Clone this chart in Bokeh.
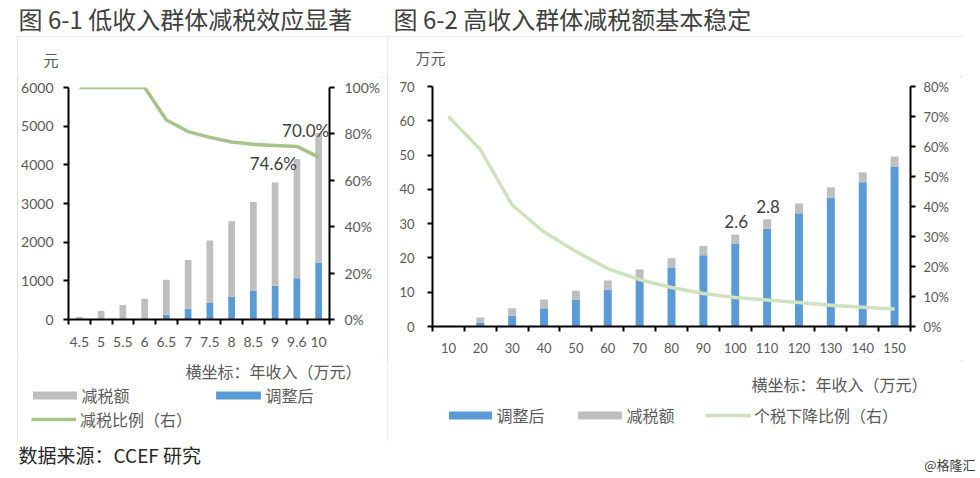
from bokeh.plotting import figure
from bokeh.models import (ColumnDataSource, Range1d, LinearAxis, FixedTicker,
                          NumeralTickFormatter, Label, Legend, LegendItem, Spacer)
from bokeh.layouts import row, column
from bokeh.embed import file_html
from bokeh.resources import INLINE

# ---------------- data ----------------
left_income = ["4.5", "5", "5.5", "6", "6.5", "7", "7.5", "8", "8.5", "9", "9.6", "10"]
left_adjusted = [0, 0, 0, 0, 130, 280, 430, 590, 740, 875, 1065, 1475]
left_cut = [65, 220, 375, 535, 895, 1260, 1610, 1950, 2300, 2670, 3085, 3350]
left_ratio = [100, 100, 100, 100, 86, 81, 78.5, 76.5, 75.5, 75, 74.6, 70.0]
left_yticks = [0, 1000, 2000, 3000, 4000, 5000, 6000]
left_pticks = [0, 20, 40, 60, 80, 100]

right_income = ["10", "20", "30", "40", "50", "60", "70", "80", "90", "100",
                "110", "120", "130", "140", "150"]
right_adjusted = [0.05, 1.0, 3.1, 5.3, 7.8, 10.8, 14.0, 17.2, 20.8, 24.2,
                  28.5, 33.0, 37.6, 42.1, 46.7]
right_cut = [0.25, 1.65, 2.25, 2.55, 2.6, 2.6, 2.6, 2.7, 2.7, 2.6,
             2.8, 2.9, 3.0, 2.9, 2.9]
right_ratio = [70, 59, 40.5, 31.5, 25, 19.3, 15.6, 13, 11, 9.7, 8.8, 8, 7.1, 6.4, 5.8]
right_yticks = [0, 10, 20, 30, 40, 50, 60, 70]
right_pticks = [0, 10, 20, 30, 40, 50, 60, 70, 80]

CJK = "Noto Sans CJK SC"
NUM = "Lato"
BLUE = "#5b9bd5"
GRAY = "#bfbfbf"
GREEN_L = "#a6c48a"
GREEN_R = "#cfe2c0"
TXT = "#595959"
DARK = "#404040"
BOX = {"outline": "2px solid #d9d9d9", "outline-offset": "-2px"}


def style_axis(ax, size, standoff):
    ax.axis_line_color = "black"
    ax.axis_line_width = 2
    ax.major_tick_line_color = "black"
    ax.major_tick_line_width = 2
    ax.major_tick_in = 0
    ax.major_tick_out = 5
    ax.minor_tick_line_color = None
    ax.major_label_text_font = NUM
    ax.major_label_text_font_size = size
    ax.major_label_text_color = TXT
    ax.major_label_standoff = standoff


def cat_x_axis(p, labels, size, standoff):
    centers = [i + 0.5 for i in range(len(labels))]
    bounds = list(range(len(labels) + 1))
    ax = p.xaxis[0]
    ax.ticker = FixedTicker(ticks=centers, minor_ticks=bounds)
    ax.major_label_overrides = {c: l for c, l in zip(centers, labels)}
    ax.axis_line_color = "black"
    ax.axis_line_width = 2
    ax.major_tick_line_color = None
    ax.major_tick_in = 0
    ax.major_tick_out = 5
    ax.minor_tick_line_color = "black"
    ax.minor_tick_line_width = 2
    ax.minor_tick_in = 0
    ax.minor_tick_out = 5
    ax.major_label_text_font = NUM
    ax.major_label_text_font_size = size
    ax.major_label_text_color = TXT
    ax.major_label_standoff = standoff


def text_fig(w, h):
    # a text-only panel; its ranges lie away from the data so that legend
    # proxy renderers are kept out of view
    f = figure(width=w, height=h, output_backend="svg", toolbar_location=None,
               x_range=Range1d(-100, -99), y_range=Range1d(-100, -99), min_border=0,
               x_axis_location=None, y_axis_location=None)
    f.grid.visible = False
    f.outline_line_color = None
    return f


def lab(p, x, y, text, size, color=TXT, align="left"):
    p.add_layout(Label(x=x, y=y, x_units="screen", y_units="screen", text=text,
                       text_font=CJK, text_font_size=size, text_color=color,
                       text_align=align, text_baseline="middle"))


def legend_item(f, label, renderer, x, y, gw, gh, standoff):
    f.add_layout(Legend(items=[LegendItem(label=label, renderers=[renderer])],
                        location=(x, y), orientation="horizontal",
                        glyph_width=gw, glyph_height=gh, label_standoff=standoff,
                        label_height=21, padding=0, margin=0,
                        border_line_alpha=0, background_fill_alpha=0,
                        label_text_font=CJK, label_text_font_size="16px",
                        label_text_color=TXT))


# ---------------- left chart (box 17..383 x 36..441) ----------------
n1 = len(left_income)
src1 = ColumnDataSource(dict(
    x=[i + 0.5 for i in range(n1)], adj=left_adjusted, cut=left_cut,
    ratio=[r / 100 for r in left_ratio]))

head1 = text_fig(366, 41)
lab(head1, 26, 18, "元", "15px")

p1 = figure(width=366, height=276, output_backend="svg", toolbar_location=None,
            x_range=Range1d(0, n1), y_range=Range1d(0, 6000),
            min_border_left=51, min_border_right=53, min_border_top=10,
            min_border_bottom=34)
p1.extra_y_ranges = {"pct": Range1d(0, 1)}
p1.grid.visible = False
p1.outline_line_color = None

p1.vbar_stack(["adj", "cut"], x="x", width=0.31, color=[BLUE, GRAY],
              line_color=None, source=src1)
p1.line("x", "ratio", source=src1, y_range_name="pct",
        line_color=GREEN_L, line_width=3.5, line_join="round")

p1.yaxis[0].ticker = FixedTicker(ticks=left_yticks)
style_axis(p1.yaxis[0], "14px", 10)
ax1r = LinearAxis(y_range_name="pct", ticker=FixedTicker(ticks=[t / 100 for t in left_pticks]),
                  formatter=NumeralTickFormatter(format="0%"))
style_axis(ax1r, "14px", 10)
p1.add_layout(ax1r, "right")
cat_x_axis(p1, left_income, "14px", 12)

i96 = left_income.index("9.6")
p1.add_layout(Label(x=i96 + 0.5, y=left_ratio[i96] / 100, y_range_name="pct",
                    text=f"{left_ratio[i96]:.1f}%", text_font=NUM, text_font_size="17px",
                    text_color=DARK, text_align="right", text_baseline="middle",
                    y_offset=-17))
i10 = left_income.index("10")
p1.add_layout(Label(x=i10 + 0.5, y=left_ratio[i10] / 100, y_range_name="pct",
                    text=f"{left_ratio[i10]:.1f}%", text_font=NUM, text_font_size="17px",
                    text_color=DARK, text_align="center", text_baseline="middle",
                    x_offset=-13, y_offset=27))

foot1 = text_fig(366, 88)
lab(foot1, 168, 71, "横坐标：年收入（万元）", "16px")
g1 = foot1.vbar(x="x", top="cut", width=0.3, color=GRAY, line_color=None, source=src1)
b1 = foot1.vbar(x="x", top="adj", width=0.3, color=BLUE, line_color=None, source=src1)
l1 = foot1.line(x="x", y="ratio", line_color=GREEN_L, line_width=3.5, source=src1)
legend_item(foot1, "减税额", g1, 9.5, 34, 55, 10, 0)
legend_item(foot1, "调整后", b1, 192.5, 34, 56, 10, 0)
legend_item(foot1, "减税比例（右）", l1, 14, 10.5, 45, 10, 4)

box1 = column(column(head1), column(p1), column(foot1), styles=BOX)

# ---------------- right chart (box 387..962 x 36..441) ----------------
n2 = len(right_income)
src2 = ColumnDataSource(dict(
    x=[i + 0.5 for i in range(n2)], adj=right_adjusted, cut=right_cut,
    ratio=[r / 100 for r in right_ratio]))

head2 = text_fig(575, 40)
lab(head2, 28, 19, "万元", "15px")

p2 = figure(width=575, height=284, output_backend="svg", toolbar_location=None,
            x_range=Range1d(0, n2), y_range=Range1d(0, 70),
            min_border_left=45, min_border_right=52, min_border_top=10,
            min_border_bottom=34)
p2.extra_y_ranges = {"pct": Range1d(0, 0.8)}
p2.grid.visible = False
p2.outline_line_color = None

p2.vbar_stack(["adj", "cut"], x="x", width=0.25, color=[BLUE, GRAY],
              line_color=None, source=src2)
p2.line("x", "ratio", source=src2, y_range_name="pct",
        line_color=GREEN_R, line_width=3.5, line_join="round")

p2.yaxis[0].ticker = FixedTicker(ticks=right_yticks)
style_axis(p2.yaxis[0], "13px", 13)
ax2r = LinearAxis(y_range_name="pct", ticker=FixedTicker(ticks=[t / 100 for t in right_pticks]),
                  formatter=NumeralTickFormatter(format="0%"))
style_axis(ax2r, "13px", 8)
p2.add_layout(ax2r, "right")
cat_x_axis(p2, right_income, "13px", 11)

for key in ["100", "110"]:
    k = right_income.index(key)
    p2.add_layout(Label(x=k + 0.5, y=right_adjusted[k] + right_cut[k],
                        text=f"{right_cut[k]:.1f}", text_font=NUM, text_font_size="17px",
                        text_color=DARK, text_align="center", text_baseline="middle",
                        x_offset=1, y_offset=13))

foot2 = text_fig(575, 81)
lab(foot2, 364, 58, "横坐标：年收入（万元）", "16px")
b2 = foot2.vbar(x="x", top="adj", width=0.3, color=BLUE, line_color=None, source=src2)
g2 = foot2.vbar(x="x", top="cut", width=0.3, color=GRAY, line_color=None, source=src2)
l2 = foot2.line(x="x", y="ratio", line_color=GREEN_R, line_width=3.5, source=src2)
legend_item(foot2, "调整后", b2, 55.5, 14.5, 54, 10, 0)
legend_item(foot2, "减税额", g2, 184.5, 14.5, 55, 10, 0)
legend_item(foot2, "个税下降比例（右）", l2, 318, 14.5, 46, 10, 3)

box2 = column(column(head2), column(p2), column(foot2), styles=BOX)

# ---------------- titles and footer ----------------
top = text_fig(980, 36)
lab(top, 18, 18, "图 6-1 低收入群体减税效应显著", "24px", DARK)
lab(top, 393, 18, "图 6-2 高收入群体减税额基本稳定", "24px", DARK)

bottom = text_fig(980, 37)
lab(bottom, 18, 24, "数据来源：CCEF 研究", "19px", "#262626")
lab(bottom, 975, 14, "@格隆汇", "13px", DARK, align="right")

layout = column(top,
                row(Spacer(width=17), box1, Spacer(width=4), box2),
                bottom)
open("out.html", "w").write(file_html(layout, INLINE))
